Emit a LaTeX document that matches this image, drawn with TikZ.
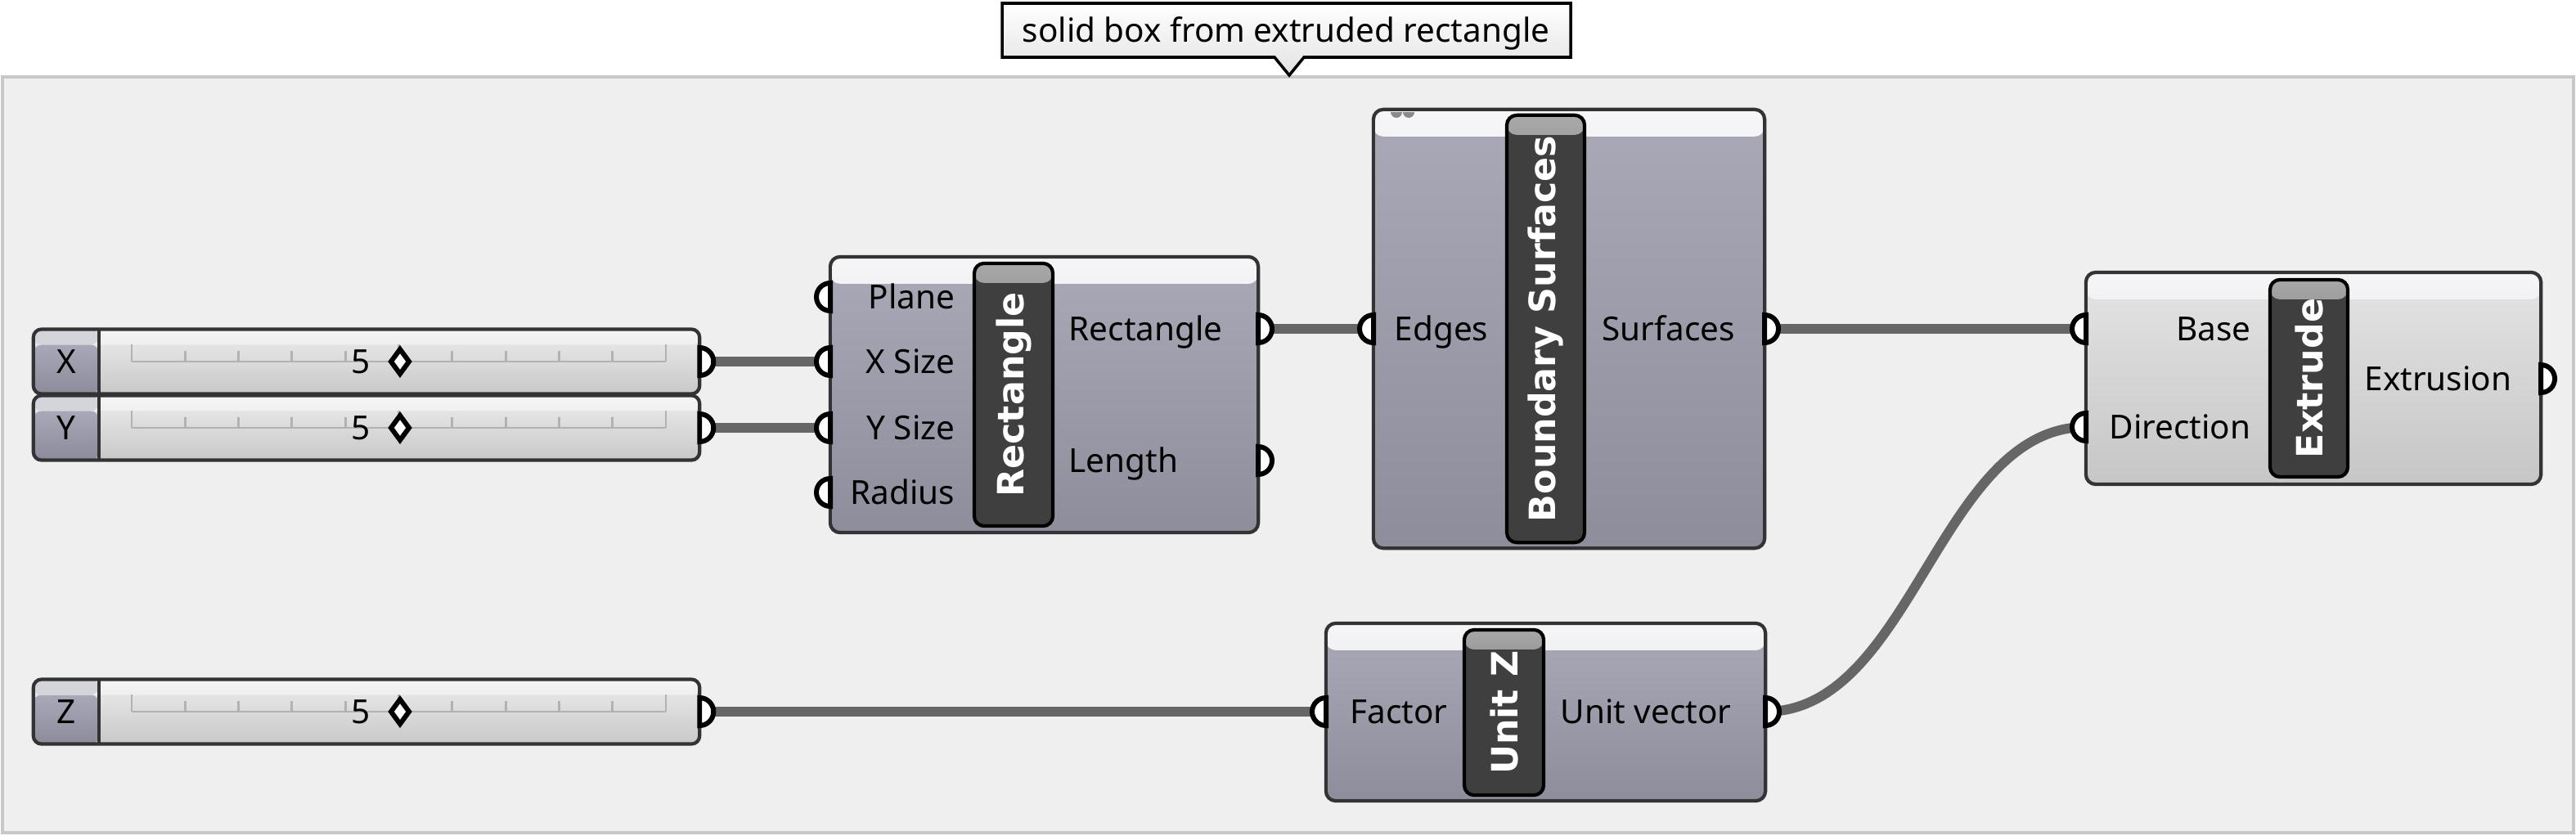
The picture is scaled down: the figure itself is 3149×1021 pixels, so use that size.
\documentclass[tikz,border=0pt]{standalone}
\usepackage{fontspec}
\setmainfont{Noto Sans}[AutoFakeBold=3]
\newfontfamily\barface{DejaVu Sans}
\usetikzlibrary{calc}

\definecolor{groupfill}{HTML}{EFEFEF}
\definecolor{groupline}{HTML}{C8C8C8}
\definecolor{wirecol}{HTML}{666666}
\definecolor{edgecol}{HTML}{333333}
\definecolor{bodytop}{HTML}{AAA9B8}
\definecolor{bodybot}{HTML}{8E8D9C}
\definecolor{headtop}{HTML}{F6F6F8}
\definecolor{headbot}{HTML}{D4D4DB}
\definecolor{extop}{HTML}{E4E4E4}
\definecolor{exbot}{HTML}{C6C6C6}
\definecolor{barcol}{HTML}{3F3F3F}
\definecolor{bartop}{HTML}{A8A8A8}
\definecolor{slidetop}{HTML}{EDEDED}
\definecolor{slidebot}{HTML}{C8C8C8}
\definecolor{labtop}{HTML}{A9A8B8}
\definecolor{labbot}{HTML}{8C8B9B}
\definecolor{tickcol}{HTML}{B2B2B2}
\definecolor{notebot}{HTML}{E2E2E2}
\definecolor{dotcol}{HTML}{8A8A8A}

\newcommand{\lblfont}{\fontsize{11.5}{13}\selectfont}
\newcommand{\barfont}{\barface\fontsize{12.6}{15}\selectfont\bfseries}

\tikzset{
	lbl/.style={font=\lblfont, inner sep=0pt, text height=0.29cm, text depth=0pt},
	wire/.style={draw=wirecol, line width=3.4pt},
	grip/.style={draw=black, fill=white, line width=1.7pt},
	tick/.style={draw=tickcol, line width=0.8pt},
	compbase/.style={draw=edgecol, line width=1.2pt, rounded corners=0.12cm, inner sep=0pt, outer sep=0pt,
		path picture={\shade[top color=headtop, bottom color=headbot] (path picture bounding box.north west) rectangle ([yshift=-0.33cm]path picture bounding box.north east);}},
	purplebody/.style={compbase, top color=bodytop, bottom color=bodybot},
	greybody/.style={compbase, top color=extop, bottom color=exbot},
	titlebar/.style={draw=black, line width=1.2pt, rounded corners=0.12cm, fill=barcol, inner sep=0pt, outer sep=0pt,
		path picture={\shade[top color=bartop, bottom color=barcol] (path picture bounding box.north west) rectangle ([yshift=-0.24cm]path picture bounding box.north east);}},
	bartext/.style={rotate=90, text=white, font=\barfont, inner sep=0pt},
	slider/.style={draw=edgecol, line width=1.2pt, rounded corners=0.1cm, minimum width=8.14cm, minimum height=0.79cm,
		inner sep=0pt, outer sep=0pt, top color=slidetop, bottom color=slidebot,
		path picture={
			\fill[white, opacity=0.45] (path picture bounding box.north west) rectangle ([yshift=-0.19cm]path picture bounding box.north east);
			\shade[top color=labtop, bottom color=labbot] (path picture bounding box.south west) rectangle ([xshift=0.8cm,yshift=-0.19cm]path picture bounding box.north west);
			\fill[headbot] (path picture bounding box.north west) rectangle ([xshift=0.8cm,yshift=-0.19cm]path picture bounding box.north west);}},
}

\begin{document}
\begin{tikzpicture}[x=0.01cm,y=-0.01cm]
	\useasboundingbox (0,0) rectangle (3149,1021);
	\fill[white] (0,0) rectangle (3149,1021);

	% group and its note
	\draw[fill=groupfill, draw=groupline, line width=1.1pt] (3,94) rectangle (3146,1018);
	\shadedraw[top color=white, bottom color=notebot, draw=black, line width=1pt]
		(1225,4) -- (1920,4) -- (1920,70) -- (1594,70) -- (1576,92) -- (1558,70) -- (1225,70) -- cycle;
	\node[lbl] (note) at (1572,37) {solid box from extruded rectangle};

	% number sliders
	\foreach \s/\yc/\t in {sx/442/X,sy/523/Y,sz/870/Z}{
		\node[slider] (\s) at (448,\yc) {};
		\draw[edgecol, line width=1.2pt] ([xshift=0.8cm]\s.north west) -- ([xshift=0.8cm]\s.south west);
		\node[lbl] (\s-name) at (81,\yc) {\t};
		\draw[tick] (161,\yc) -- (814,\yc);
		\foreach \i in {0,5,10}
			\draw[tick] ({161+65.3*\i},\yc) -- ++(0,-21);
		\foreach \i in {1,2,3,4,6,7,8,9}
			\draw[tick] ({161+65.3*\i},\yc) -- ++(0,-13);
		\node[lbl] (\s-val) at (441,\yc) {5};
		\draw[black, fill=white, line width=1.7pt] (489,\yc-15) -- (500,\yc) -- (489,\yc+15) -- (478,\yc) -- cycle;
		\coordinate (\s-out) at (\s.east);
	}

	% grips
	\coordinate (re-pl) at (1015,363);
	\coordinate (re-x) at (1015,442);
	\coordinate (re-y) at (1015,523);
	\coordinate (re-r) at (1015,602);
	\coordinate (re-rec) at (1538,402);
	\coordinate (re-len) at (1538,563);
	\coordinate (bs-e) at (1679,402);
	\coordinate (bs-s) at (2157,402);
	\coordinate (uz-f) at (1621,870);
	\coordinate (uz-v) at (2158,870);
	\coordinate (ex-b) at (2550,402);
	\coordinate (ex-d) at (2550,522);
	\coordinate (ex-x) at (3106,463);

	% wires
	\draw[wire] (sx-out) -- (re-x);
	\draw[wire] (sy-out) -- (re-y);
	\draw[wire] (re-rec) -- (bs-e);
	\draw[wire] (bs-s) -- (ex-b);
	\draw[wire] (sz-out) -- (uz-f);
	\draw[wire] (uz-v) .. controls +(1.8cm,0) and +(-1.8cm,0) .. (ex-d);

	% Rectangle
	\node[purplebody, minimum width=5.23cm, minimum height=3.37cm] (rect) at (1276.5,482.5) {};
	\node[titlebar, minimum width=0.96cm, minimum height=3.21cm] (rect-bar) at (1239,482.5) {};
	\node[bartext] (rect-title) at (rect-bar) {Rectangle};
	\node[lbl, anchor=east] (re-pl-t) at (1168,363) {Plane};
	\node[lbl, anchor=east] (re-x-t) at (1168,442) {X Size};
	\node[lbl, anchor=east] (re-y-t) at (1168,523) {Y Size};
	\node[lbl, anchor=east] (re-r-t) at (1168,602) {Radius};
	\node[lbl, anchor=west] (re-rec-t) at (1306,402) {Rectangle};
	\node[lbl, anchor=west] (re-len-t) at (1306,563) {Length};

	% Boundary Surfaces
	\node[purplebody, minimum width=4.78cm, minimum height=5.36cm] (bsrf) at (1918,402) {};
	\fill[dotcol] (1700,137) arc (180:360:0.07cm);
	\fill[dotcol] (1715,137) arc (180:360:0.07cm);
	\node[titlebar, minimum width=0.95cm, minimum height=5.22cm] (bsrf-bar) at (1889.5,402) {};
	\node[bartext] (bsrf-title) at (bsrf-bar) {Boundary Surfaces};
	\node[lbl, anchor=east] (bs-e-t) at (1820,402) {Edges};
	\node[lbl, anchor=west] (bs-s-t) at (1958,402) {Surfaces};

	% Unit Z
	\node[purplebody, minimum width=5.37cm, minimum height=2.17cm] (unitz) at (1889.5,870.5) {};
	\node[titlebar, minimum width=0.97cm, minimum height=2.02cm] (unitz-bar) at (1838.5,871) {};
	\node[bartext] (unitz-title) at (unitz-bar) {Unit Z};
	\node[lbl, anchor=east] (uz-f-t) at (1770,870) {Factor};
	\node[lbl, anchor=west] (uz-v-t) at (1907,870) {Unit vector};

	% Extrude
	\node[greybody, minimum width=5.56cm, minimum height=2.59cm] (extr) at (2828,462.5) {};
	\node[titlebar, minimum width=0.95cm, minimum height=2.41cm] (extr-bar) at (2822.5,462.5) {};
	\node[bartext] (extr-title) at (extr-bar) {Extrude};
	\node[lbl, anchor=east] (ex-b-t) at (2752,402) {Base};
	\node[lbl, anchor=east] (ex-d-t) at (2752,522) {Direction};
	\node[lbl, anchor=west] (ex-x-t) at (2890,463) {Extrusion};

	% input and output grips
	\foreach \g in {re-pl,re-x,re-y,re-r,bs-e,uz-f,ex-b,ex-d}
		\draw[grip] (\g) ++(90:0.17cm) arc (90:270:0.17cm) -- cycle;
	\foreach \g in {sx-out,sy-out,sz-out,re-rec,re-len,bs-s,uz-v,ex-x}
		\draw[grip] (\g) ++(90:0.17cm) arc (90:-90:0.17cm) -- cycle;
\end{tikzpicture}
\end{document}
